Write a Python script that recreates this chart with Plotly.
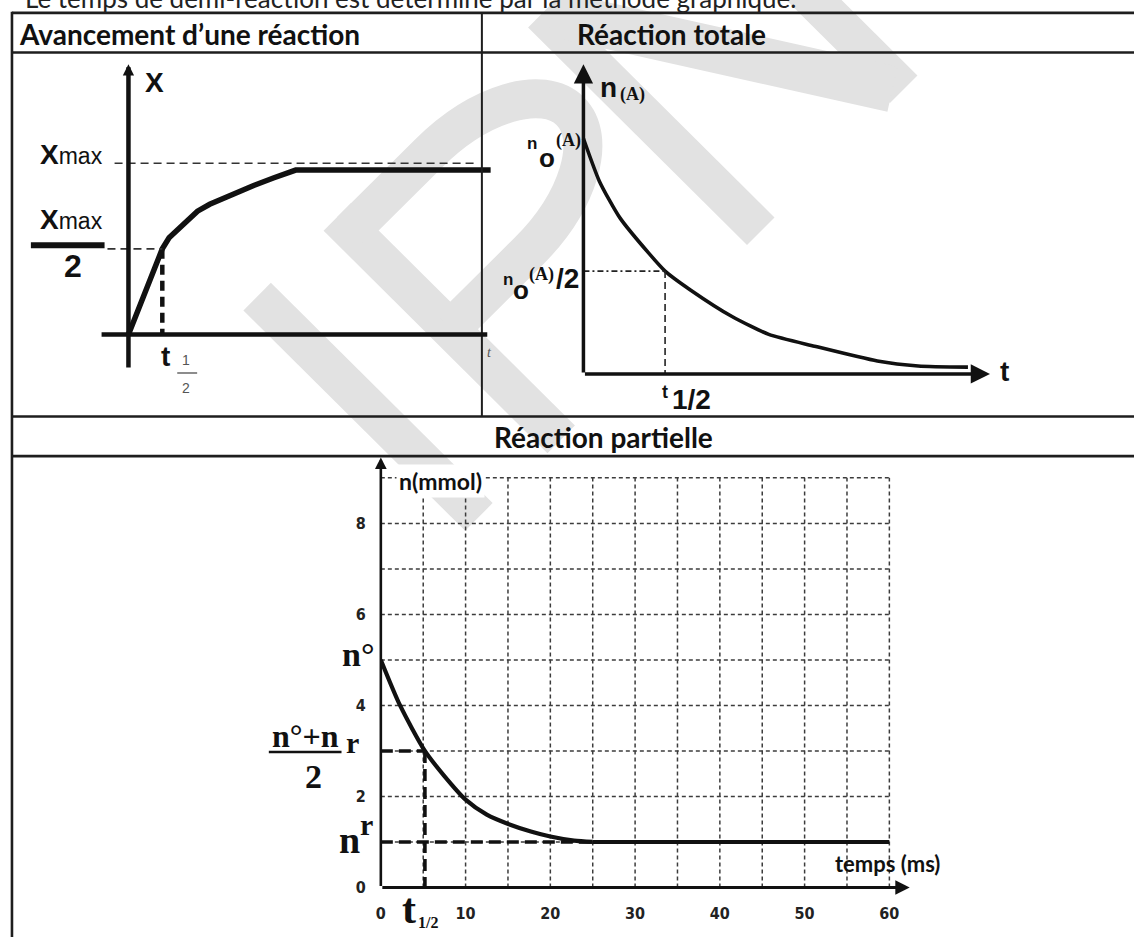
import numpy as np
import plotly.graph_objects as go

W, H = 1134, 942

# ---------------- data ----------------
# Avancement d'une réaction : t in units of t1/2, X in units of Xmax
adv_t = [0, 1.0, 1.2, 1.45, 1.75, 2.04, 2.4, 2.73, 3.2, 3.7, 4.3, 4.94, 10.7]
adv_x = [0, 0.5, 0.565, 0.61, 0.67, 0.72, 0.76, 0.79, 0.83, 0.87, 0.915, 0.96, 0.96]
adv_xmax = 1.0
adv_thalf = 1.0

# Réaction totale : t in units of t1/2, n(A) in units of n0(A)
tot_t = [0, 0.195, 0.445, 0.80, 1.0, 1.31, 1.82, 2.27, 2.83, 3.6, 4.1, 4.71]
tot_n = [1.0, 0.819, 0.664, 0.513, 0.437, 0.357, 0.244, 0.168, 0.118, 0.055, 0.034, 0.029]
tot_thalf = 1.0

# Réaction partielle : temps (ms), n (mmol)
par_t = [0, 2.27, 5.2, 7.4, 10, 12.5, 15.1, 17.7, 20, 22.8, 25]
par_n = [5.0, 4.0, 3.0, 2.47, 1.93, 1.60, 1.39, 1.23, 1.12, 1.03, 1.0]
par_tend = 60
par_nmax = 9
par_xticks = [0, 10, 20, 30, 40, 50, 60]
par_yticks = [0, 2, 4, 6, 8]

# derived half-reaction points
adv_half = adv_xmax / 2
tot_nhalf = float(np.interp(tot_thalf, tot_t, tot_n))
par_n0, par_nr = par_n[0], par_n[-1]
par_nhalf = (par_n0 + par_nr) / 2
par_thalf = float(np.interp(par_nhalf, par_n[::-1], par_t[::-1]))

# ---------------- fonts ----------------
HDR = "Lato, 'Open Sans', sans-serif"
SANS = "'Liberation Sans', Arial, sans-serif"
SERIF = "'Liberation Serif', 'Times New Roman', serif"
NARROW = "'Liberation Sans Narrow', 'DejaVu Sans Condensed', 'Liberation Sans', sans-serif"
INK = "#111111"


def frame(px_l, px_r, py_t, py_b, x0, sx, y0, sy):
    """Axis domain/range so that data 0 sits at pixel (x0, y0) with sx, sy px per unit."""
    xa = dict(domain=[px_l / W, px_r / W], range=[(px_l - x0) / sx, (px_r - x0) / sx])
    ya = dict(domain=[1 - py_b / H, 1 - py_t / H], range=[(y0 - py_b) / sy, (y0 - py_t) / sy])
    return xa, ya


def P(x, y):
    return x / W, 1 - y / H


def txt(s, x, y, size, family=SANS, bold=False, color=INK, xa="center", ya="middle", **kw):
    px, py = P(x, y)
    return dict(text=f"<b>{s}</b>" if bold else s, x=px, y=py, xref="paper", yref="paper",
                showarrow=False, xanchor=xa, yanchor=ya,
                font=dict(size=size, family=family, color=color), **kw)


def pline(x0, y0, x1, y1, width, color="#222222", dash=None, layer="above"):
    a, b = P(x0, y0)
    c, d = P(x1, y1)
    ln = dict(color=color, width=width)
    if dash:
        ln["dash"] = dash
    return dict(type="line", xref="paper", yref="paper", x0=a, y0=b, x1=c, y1=d, line=ln, layer=layer)


def dline(ax, x0, y0, x1, y1, width, color=INK, dash=None, layer="above"):
    ln = dict(color=color, width=width)
    if dash:
        ln["dash"] = dash
    return dict(type="line", xref=f"x{ax}", yref=f"y{ax}", x0=x0, y0=y0, x1=x1, y1=y1, line=ln, layer=layer)


def arrow(ax, xt, yt, xh, yh, width, size=1.0, head=2, color=INK):
    return dict(x=xh, y=yh, ax=xt, ay=yt, xref=f"x{ax}", yref=f"y{ax}", axref=f"x{ax}", ayref=f"y{ax}",
                text="", showarrow=True, arrowhead=head, arrowwidth=width, arrowsize=size,
                arrowcolor=color, standoff=0, startstandoff=0)


shapes, annots = [], []

# ---------------- watermark (light grey letters drawn behind everything) ----------------
WM = "#e2e2e2"
C0 = (320, 233)


def wm(a, b):
    return (C0[0] + 0.7071 * a - 0.7071 * b, C0[1] - 0.7071 * a - 0.7071 * b)


def wm_path(cmds):
    out = []
    for c, pts in cmds:
        s = c
        for (a, b) in pts:
            x, y = P(*wm(a, b))
            s += f" {x:.5f},{y:.5f}"
        out.append(s)
    return " ".join(out)


def wm_stroke(cmds, width):
    shapes.append(dict(type="path", xref="paper", yref="paper", path=wm_path(cmds),
                       line=dict(color=WM, width=width), layer="below"))


wm_stroke([("M", [(-94.4, 0)]), ("L", [(-94.4, -315)])], 39)                 # I
wm_stroke([("M", [(19.5, 0)]), ("L", [(19.5, -318)])], 39)                   # P stem
wm_stroke([("M", [(19.5, -19.5)]), ("L", [(130, -19.5)]),
           ("C", [(202.1, -19.5), (260.5, -51.1), (260.5, -90)]),
           ("C", [(260.5, -128.9), (202.1, -160.5), (130, -160.5)]),
           ("L", [(19.5, -160.5)])], 39)                                     # P bowl
wm_stroke([("M", [(310, 0)]), ("L", [(310, -311)])], 39)                     # N left
wm_stroke([("M", [(513, 0)]), ("L", [(513, -311)])], 39)                     # N right
wm_stroke([("M", [(318, -8)]), ("L", [(505, -303)])], 46)                    # N diagonal

# ---------------- table ----------------
TB = "#1e1e1e"
for yy in (13, 53, 421, 461):
    shapes.append(pline(7, yy, W + 5, yy, 2.6, TB))
shapes.append(pline(7, 12, 7, H + 5, 2.6, TB))
shapes.append(pline(479, 13, 479, 421, 2.0, TB))

annots.append(txt("Le temps de demi-réaction est déterminé par la méthode graphique.",
                  18, -2, 26, HDR, color="#222222", xa="left"))
annots.append(txt("Avancement d’une réaction", 12, 34, 28, HDR, bold=True, xa="left"))
annots.append(txt("Réaction totale", 573, 34, 28, HDR, bold=True, xa="left"))
annots.append(txt("Réaction partielle", 601, 442, 28, HDR, bold=True))

# ---------------- axes frames ----------------
xa1, ya1 = frame(60, 500, 55, 420, 124, 34, 338, 173)
xa2, ya2 = frame(500, 1134, 55, 420, 581, 82, 378, 238)
sx3, sy3 = 8.513, 46
x3r, y3r = 62.4, 9.45
xa3, ya3 = frame(377.5, 377.5 + x3r * sx3, 897 - y3r * sy3, 897, 377.5, sx3, 897, sy3)

hidden = dict(visible=False, fixedrange=True, showgrid=False, zeroline=False)

traces = []

# ---------------- chart 1 : avancement ----------------
shapes.append(dline(1, -0.794, 0, 10.6, 0, 4.5))
annots.append(arrow(1, 0, -0.202, 0, 1.578, 4.5, size=0.5))
shapes.append(dline(1, -0.41, adv_xmax, 10.26, adv_xmax, 1.6, "#333333", "8px,5px"))
shapes.append(dline(1, -0.62, adv_half, adv_thalf, adv_half, 1.8, "#333333", "8px,5px"))
traces.append(go.Scatter(x=[adv_thalf, adv_thalf], y=[adv_half, 0], xaxis="x", yaxis="y", mode="lines",
                         line=dict(color=INK, width=4.5, dash="10px,6px"), hoverinfo="skip"))
traces.append(go.Scatter(x=adv_t, y=adv_x, xaxis="x", yaxis="y", mode="lines",
                         line=dict(color=INK, width=5.5), hoverinfo="skip"))
shapes.append(pline(26, 248, 100, 248, 6, INK))

annots.append(txt("X", 150, 83, 28, SANS, bold=True))
annots.append(txt("<span style='font-size:28px'><b>X</b></span>max", 67, 156, 23, SANS))
annots.append(txt("<span style='font-size:28px'><b>X</b></span>max", 67, 222, 23, SANS))
annots.append(txt("2", 68, 269, 32, SANS, bold=True))
annots.append(txt("t", 161, 360, 28, SANS, bold=True))
annots.append(txt("1", 182, 364, 14, SANS, color="#555555"))
shapes.append(pline(173, 377, 193, 377, 1.5, "#666666"))
annots.append(txt("2", 182, 392, 14, SANS, color="#555555"))
annots.append(txt("<i>t</i>", 487, 356, 14, SERIF, color="#555555"))

# ---------------- chart 2 : réaction totale ----------------
annots.append(arrow(2, 0, 0, 4.98, 0, 3.5, size=1.1))
annots.append(arrow(2, 0, 0, 0, 1.315, 3.5, size=1.1))
shapes.append(dline(2, 0, tot_nhalf, tot_thalf, tot_nhalf, 1.6, "#222222", "6px,3px,2px,3px"))
shapes.append(dline(2, tot_thalf, tot_nhalf, tot_thalf, 0, 1.6, "#222222", "7px,4px"))
traces.append(go.Scatter(x=tot_t, y=tot_n, xaxis="x2", yaxis="y2", mode="lines",
                         line=dict(color=INK, width=3.6, shape="spline", smoothing=0.6), hoverinfo="skip"))

annots.append(txt("n", 606, 88, 28, SANS, bold=True))
annots.append(txt("(A)", 630, 96, 18, SERIF, bold=True))
annots.append(txt("n", 529, 145, 17, SANS, bold=True))
annots.append(txt("o", 544, 160, 26, SANS, bold=True))
annots.append(txt("(A)", 566, 142, 18, SERIF, bold=True))
annots.append(txt("n", 505, 283, 17, SANS, bold=True))
annots.append(txt("o", 518.5, 293, 26, SANS, bold=True))
annots.append(txt("(A)", 538.5, 277, 18, SERIF, bold=True))
annots.append(txt("/2", 565, 281, 28, SANS, bold=True))
annots.append(txt("t", 663, 396, 18, SANS, bold=True))
annots.append(txt("1/2", 690, 404, 28, SANS, bold=True))
annots.append(txt("t", 1004, 375, 28, SANS, bold=True))

# ---------------- chart 3 : réaction partielle ----------------
GRID = "#3c3c3c"
for t in range(5, par_tend + 1, 5):
    shapes.append(dline(3, t, 0, t, par_nmax, 1.5, GRID, "4px,3px", layer="below"))
for n in range(1, par_nmax + 1):
    shapes.append(dline(3, 0, n, par_tend, n, 1.5, GRID, "4px,3px", layer="below"))

annots.append(arrow(3, 0, 0, x3r, 0, 3.2, size=0.9))
annots.append(arrow(3, 0, 0, 0, y3r, 2.6, size=0.9))

thick = dict(color=INK, width=3.6, dash="12px,6px")
traces.append(go.Scatter(x=[0, par_t[-1]], y=[par_nr, par_nr], xaxis="x3", yaxis="y3", mode="lines",
                         line=thick, hoverinfo="skip"))
traces.append(go.Scatter(x=[0, par_thalf], y=[par_nhalf, par_nhalf], xaxis="x3", yaxis="y3", mode="lines",
                         line=thick, hoverinfo="skip"))
traces.append(go.Scatter(x=[par_thalf, par_thalf], y=[par_nhalf, 0], xaxis="x3", yaxis="y3", mode="lines",
                         line=thick, hoverinfo="skip"))
traces.append(go.Scatter(x=[par_t[-1], par_tend], y=[par_nr, par_nr], xaxis="x3", yaxis="y3", mode="lines",
                         line=dict(color=INK, width=4), hoverinfo="skip"))
traces.append(go.Scatter(x=par_t, y=par_n, xaxis="x3", yaxis="y3", mode="lines",
                         line=dict(color=INK, width=4.2, shape="spline", smoothing=0.7), hoverinfo="skip"))

annots.append(txt("n(mmol)", 437, 486, 23, HDR, bold=True, bgcolor="white", borderpad=2))
annots.append(txt("temps (ms)", 886, 873, 22, HDR, bold=True))
annots.append(txt("n°", 374, 662, 34, SERIF, bold=True, xa="right"))
annots.append(txt("n°+n", 301.5, 744, 32, SERIF, bold=True))
shapes.append(pline(265, 760, 338, 760, 2.5, INK))
annots.append(txt("r", 349, 750, 30, SERIF, bold=True))
annots.append(txt("2", 310, 785, 34, SERIF, bold=True))
annots.append(txt("n", 346, 849, 38, SERIF, bold=True))
annots.append(txt("r", 363.5, 833, 30, SERIF, bold=True))
annots.append(txt("t", 405.5, 919, 42, SERIF, bold=True))
annots.append(txt("1/2", 425, 932, 16, SERIF, bold=True))

tickfont = dict(family=NARROW, size=16, color="#222222", weight="bold")

fig = go.Figure(data=traces)
fig.update_layout(
    width=W, height=H, autosize=False,
    margin=dict(l=0, r=0, t=0, b=0),
    paper_bgcolor="white", plot_bgcolor="rgba(0,0,0,0)",
    showlegend=False,
    xaxis=dict(**xa1, **hidden, anchor="y"),
    yaxis=dict(**ya1, **hidden, anchor="x"),
    xaxis2=dict(**xa2, **hidden, anchor="y2"),
    yaxis2=dict(**ya2, **hidden, anchor="x2"),
    xaxis3=dict(**xa3, anchor="y3", fixedrange=True, showgrid=False, zeroline=False, showline=False,
                ticks="", tickmode="array", tickvals=par_xticks, tickfont=tickfont, ticklabelstandoff=15),
    yaxis3=dict(**ya3, anchor="x3", fixedrange=True, showgrid=False, zeroline=False, showline=False,
                ticks="", tickmode="array", tickvals=par_yticks, tickfont=tickfont, ticklabelstandoff=14),
    shapes=shapes,
    annotations=annots,
)

fig.write_html("out.html", config={"displayModeBar": False})
